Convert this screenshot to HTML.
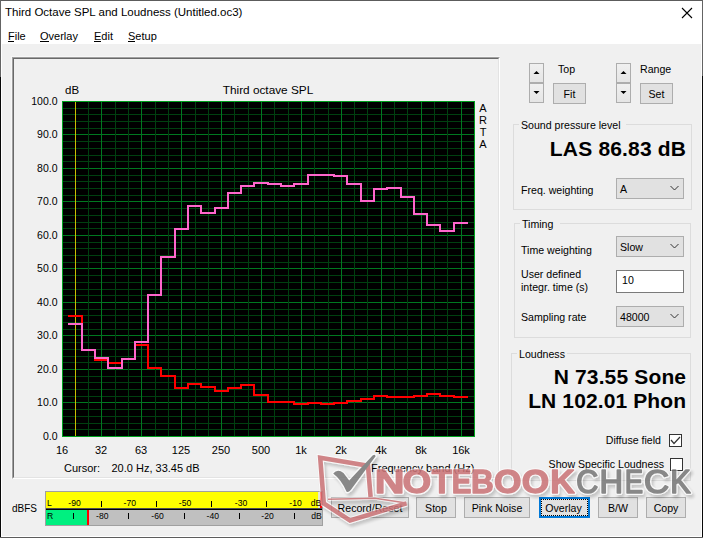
<!DOCTYPE html>
<html><head><meta charset="utf-8"><style>
html,body{margin:0;padding:0;}
body{width:703px;height:538px;position:relative;overflow:hidden;font-family:"Liberation Sans", sans-serif;background:#f0f0f0;}
</style></head><body>
<div style="position:absolute;left:0px;top:0px;width:703px;height:538px;background:#f0f0f0;"></div><div style="position:absolute;left:0px;top:0px;width:703px;height:44px;background:#fff;"></div><div style="position:absolute;left:0px;top:0px;width:703px;height:1px;background:#5c5c5c;"></div><div style="position:absolute;left:0px;top:537px;width:703px;height:1px;background:#5c5c5c;"></div><div style="position:absolute;left:0px;top:0px;width:1px;height:538px;background:#646464;"></div><div style="position:absolute;left:702px;top:0px;width:1px;height:538px;background:#646464;"></div><div style="position:absolute;left:701px;top:44px;width:1px;height:493px;background:#fff;"></div><div style="position:absolute;left:1px;top:44px;width:1px;height:493px;background:#fff;"></div><div style="position:absolute;left:0px;top:77px;width:1px;height:460px;background:#080808;"></div><div style="position:absolute;left:702px;top:76px;width:1px;height:461px;background:#080808;"></div><div style="position:absolute;left:1px;top:536px;width:701px;height:1px;background:#fff;"></div><div style="position:absolute;left:5px;top:7.27px;font-size:11.5px;line-height:11.5px;font-weight:400;color:#000;white-space:pre;">Third Octave SPL and Loudness (Untitled.oc3)</div><svg style="position:absolute;left:681px;top:7px" width="12" height="12"><path d="M1 1L11 11M11 1L1 11" stroke="#000" stroke-width="1.1"/></svg><div style="position:absolute;left:8px;top:30.69px;font-size:11px;line-height:11px;font-weight:400;color:#000;white-space:pre;">File</div><div style="position:absolute;left:8px;top:41px;width:6px;height:1px;background:#000;"></div><div style="position:absolute;left:40px;top:30.69px;font-size:11px;line-height:11px;font-weight:400;color:#000;white-space:pre;">Overlay</div><div style="position:absolute;left:40px;top:41px;width:9px;height:1px;background:#000;"></div><div style="position:absolute;left:94px;top:30.69px;font-size:11px;line-height:11px;font-weight:400;color:#000;white-space:pre;">Edit</div><div style="position:absolute;left:94px;top:41px;width:7px;height:1px;background:#000;"></div><div style="position:absolute;left:128px;top:30.69px;font-size:11px;line-height:11px;font-weight:400;color:#000;white-space:pre;">Setup</div><div style="position:absolute;left:128px;top:41px;width:7px;height:1px;background:#000;"></div><div style="position:absolute;left:11px;top:56px;width:489px;height:423px;background:#f7f7f7;"></div><div style="position:absolute;left:12px;top:57px;width:488px;height:422px;box-sizing:border-box;border-top:1px solid #a0a0a0;border-left:1px solid #a0a0a0;border-right:1px solid #fff;border-bottom:1px solid #fff;"></div><div style="position:absolute;left:13px;top:58px;width:486px;height:420px;box-sizing:border-box;border-top:1px solid #696969;border-left:1px solid #696969;border-right:1px solid #e3e3e3;border-bottom:1px solid #e3e3e3;background:#f0f0f0;"></div><svg style="position:absolute;left:0;top:0" width="703" height="538" shape-rendering="crispEdges"><rect x="62" y="101" width="413" height="336" fill="#000"/><rect x="62" y="108" width="412" height="1" fill="#004010"/><rect x="62" y="114" width="412" height="1" fill="#004010"/><rect x="62" y="121" width="412" height="1" fill="#004010"/><rect x="62" y="128" width="412" height="1" fill="#004010"/><rect x="62" y="134" width="412" height="1" fill="#007820"/><rect x="62" y="141" width="412" height="1" fill="#004010"/><rect x="62" y="148" width="412" height="1" fill="#004010"/><rect x="62" y="155" width="412" height="1" fill="#004010"/><rect x="62" y="161" width="412" height="1" fill="#004010"/><rect x="62" y="168" width="412" height="1" fill="#007820"/><rect x="62" y="175" width="412" height="1" fill="#004010"/><rect x="62" y="181" width="412" height="1" fill="#004010"/><rect x="62" y="188" width="412" height="1" fill="#004010"/><rect x="62" y="195" width="412" height="1" fill="#004010"/><rect x="62" y="201" width="412" height="1" fill="#007820"/><rect x="62" y="208" width="412" height="1" fill="#004010"/><rect x="62" y="215" width="412" height="1" fill="#004010"/><rect x="62" y="222" width="412" height="1" fill="#004010"/><rect x="62" y="228" width="412" height="1" fill="#004010"/><rect x="62" y="235" width="412" height="1" fill="#007820"/><rect x="62" y="242" width="412" height="1" fill="#004010"/><rect x="62" y="248" width="412" height="1" fill="#004010"/><rect x="62" y="255" width="412" height="1" fill="#004010"/><rect x="62" y="262" width="412" height="1" fill="#004010"/><rect x="62" y="268" width="412" height="1" fill="#007820"/><rect x="62" y="275" width="412" height="1" fill="#004010"/><rect x="62" y="282" width="412" height="1" fill="#004010"/><rect x="62" y="289" width="412" height="1" fill="#004010"/><rect x="62" y="295" width="412" height="1" fill="#004010"/><rect x="62" y="302" width="412" height="1" fill="#007820"/><rect x="62" y="309" width="412" height="1" fill="#004010"/><rect x="62" y="315" width="412" height="1" fill="#004010"/><rect x="62" y="322" width="412" height="1" fill="#004010"/><rect x="62" y="329" width="412" height="1" fill="#004010"/><rect x="62" y="335" width="412" height="1" fill="#007820"/><rect x="62" y="342" width="412" height="1" fill="#004010"/><rect x="62" y="349" width="412" height="1" fill="#004010"/><rect x="62" y="356" width="412" height="1" fill="#004010"/><rect x="62" y="362" width="412" height="1" fill="#004010"/><rect x="62" y="369" width="412" height="1" fill="#007820"/><rect x="62" y="376" width="412" height="1" fill="#004010"/><rect x="62" y="382" width="412" height="1" fill="#004010"/><rect x="62" y="389" width="412" height="1" fill="#004010"/><rect x="62" y="396" width="412" height="1" fill="#004010"/><rect x="62" y="402" width="412" height="1" fill="#007820"/><rect x="62" y="409" width="412" height="1" fill="#004010"/><rect x="62" y="416" width="412" height="1" fill="#004010"/><rect x="62" y="423" width="412" height="1" fill="#004010"/><rect x="62" y="429" width="412" height="1" fill="#004010"/><rect x="75" y="101" width="1" height="335" fill="#004010"/><rect x="88" y="101" width="1" height="335" fill="#004010"/><rect x="101" y="101" width="1" height="335" fill="#007820"/><rect x="115" y="101" width="1" height="335" fill="#004010"/><rect x="128" y="101" width="1" height="335" fill="#004010"/><rect x="141" y="101" width="1" height="335" fill="#007820"/><rect x="155" y="101" width="1" height="335" fill="#004010"/><rect x="168" y="101" width="1" height="335" fill="#004010"/><rect x="181" y="101" width="1" height="335" fill="#007820"/><rect x="195" y="101" width="1" height="335" fill="#004010"/><rect x="208" y="101" width="1" height="335" fill="#004010"/><rect x="221" y="101" width="1" height="335" fill="#007820"/><rect x="234" y="101" width="1" height="335" fill="#004010"/><rect x="248" y="101" width="1" height="335" fill="#004010"/><rect x="261" y="101" width="1" height="335" fill="#007820"/><rect x="274" y="101" width="1" height="335" fill="#004010"/><rect x="288" y="101" width="1" height="335" fill="#004010"/><rect x="301" y="101" width="1" height="335" fill="#007820"/><rect x="314" y="101" width="1" height="335" fill="#004010"/><rect x="328" y="101" width="1" height="335" fill="#004010"/><rect x="341" y="101" width="1" height="335" fill="#007820"/><rect x="354" y="101" width="1" height="335" fill="#004010"/><rect x="367" y="101" width="1" height="335" fill="#004010"/><rect x="381" y="101" width="1" height="335" fill="#007820"/><rect x="394" y="101" width="1" height="335" fill="#004010"/><rect x="407" y="101" width="1" height="335" fill="#004010"/><rect x="421" y="101" width="1" height="335" fill="#007820"/><rect x="434" y="101" width="1" height="335" fill="#004010"/><rect x="447" y="101" width="1" height="335" fill="#004010"/><rect x="461" y="101" width="1" height="335" fill="#007820"/><rect x="62" y="101" width="413" height="1" fill="#00a01e"/><rect x="62" y="436" width="413" height="1" fill="#00a01e"/><rect x="62" y="101" width="1" height="336" fill="#00a01e"/><rect x="474" y="101" width="1" height="336" fill="#00a01e"/><rect x="75" y="102" width="1" height="334" fill="#c8be00"/><path d="M69 316 H82 V350 H95 V360 H108 V363 H122 V359 H135 V345 H148 V368 H161 V376 H175 V388 H188 V384 H201 V387 H215 V391 H228 V388 H241 V385 H254 V395 H268 V402 H281 V402 H294 V404 H308 V403 H321 V404 H334 V403 H347 V401 H361 V399 H374 V396 H387 V397 H401 V397 H414 V396 H427 V394 H440 V396 H454 V397 H467" fill="none" stroke="#ff0000" stroke-width="2" stroke-linecap="square"/><path d="M69 324 H82 V350 H95 V358 H108 V368 H122 V359 H135 V342 H148 V295 H161 V257 H175 V229 H188 V206 H201 V213 H215 V208 H228 V193 H241 V186 H254 V183 H268 V184 H281 V186 H294 V184 H308 V175 H321 V175 H334 V176 H347 V184 H361 V201 H374 V189 H387 V188 H401 V197 H414 V214 H427 V225 H440 V231 H454 V223 H467" fill="none" stroke="#ff66cc" stroke-width="2" stroke-linecap="square"/></svg><div style="position:absolute;right:645.5px;top:95.81px;font-size:10.5px;line-height:10.5px;font-weight:400;color:#000;white-space:pre;">100.0</div><div style="position:absolute;right:645.5px;top:129.31px;font-size:10.5px;line-height:10.5px;font-weight:400;color:#000;white-space:pre;">90.0</div><div style="position:absolute;right:645.5px;top:162.81px;font-size:10.5px;line-height:10.5px;font-weight:400;color:#000;white-space:pre;">80.0</div><div style="position:absolute;right:645.5px;top:196.31px;font-size:10.5px;line-height:10.5px;font-weight:400;color:#000;white-space:pre;">70.0</div><div style="position:absolute;right:645.5px;top:229.81px;font-size:10.5px;line-height:10.5px;font-weight:400;color:#000;white-space:pre;">60.0</div><div style="position:absolute;right:645.5px;top:263.31px;font-size:10.5px;line-height:10.5px;font-weight:400;color:#000;white-space:pre;">50.0</div><div style="position:absolute;right:645.5px;top:296.81px;font-size:10.5px;line-height:10.5px;font-weight:400;color:#000;white-space:pre;">40.0</div><div style="position:absolute;right:645.5px;top:330.31px;font-size:10.5px;line-height:10.5px;font-weight:400;color:#000;white-space:pre;">30.0</div><div style="position:absolute;right:645.5px;top:363.81px;font-size:10.5px;line-height:10.5px;font-weight:400;color:#000;white-space:pre;">20.0</div><div style="position:absolute;right:645.5px;top:397.31px;font-size:10.5px;line-height:10.5px;font-weight:400;color:#000;white-space:pre;">10.0</div><div style="position:absolute;right:645.5px;top:430.81px;font-size:10.5px;line-height:10.5px;font-weight:400;color:#000;white-space:pre;">0.0</div><div style="position:absolute;left:65px;top:85.27px;font-size:11.5px;line-height:11.5px;font-weight:400;color:#000;white-space:pre;">dB</div><div style="position:absolute;left:68px;width:400px;text-align:center;top:85.01px;font-size:11.8px;line-height:11.8px;font-weight:400;color:#000;white-space:pre;">Third octave SPL</div><div style="position:absolute;left:283px;width:400px;text-align:center;top:102.69px;font-size:11px;line-height:11px;font-weight:400;color:#000;white-space:pre;">A</div><div style="position:absolute;left:283px;width:400px;text-align:center;top:114.89px;font-size:11px;line-height:11px;font-weight:400;color:#000;white-space:pre;">R</div><div style="position:absolute;left:283px;width:400px;text-align:center;top:127.09px;font-size:11px;line-height:11px;font-weight:400;color:#000;white-space:pre;">T</div><div style="position:absolute;left:283px;width:400px;text-align:center;top:139.29px;font-size:11px;line-height:11px;font-weight:400;color:#000;white-space:pre;">A</div><div style="position:absolute;left:-138.0px;width:400px;text-align:center;top:445.19px;font-size:11px;line-height:11px;font-weight:400;color:#000;white-space:pre;">16</div><div style="position:absolute;left:-99.0px;width:400px;text-align:center;top:445.19px;font-size:11px;line-height:11px;font-weight:400;color:#000;white-space:pre;">32</div><div style="position:absolute;left:-59.0px;width:400px;text-align:center;top:445.19px;font-size:11px;line-height:11px;font-weight:400;color:#000;white-space:pre;">63</div><div style="position:absolute;left:-19.0px;width:400px;text-align:center;top:445.19px;font-size:11px;line-height:11px;font-weight:400;color:#000;white-space:pre;">125</div><div style="position:absolute;left:21.0px;width:400px;text-align:center;top:445.19px;font-size:11px;line-height:11px;font-weight:400;color:#000;white-space:pre;">250</div><div style="position:absolute;left:61.0px;width:400px;text-align:center;top:445.19px;font-size:11px;line-height:11px;font-weight:400;color:#000;white-space:pre;">500</div><div style="position:absolute;left:101.0px;width:400px;text-align:center;top:445.19px;font-size:11px;line-height:11px;font-weight:400;color:#000;white-space:pre;">1k</div><div style="position:absolute;left:141.0px;width:400px;text-align:center;top:445.19px;font-size:11px;line-height:11px;font-weight:400;color:#000;white-space:pre;">2k</div><div style="position:absolute;left:181.0px;width:400px;text-align:center;top:445.19px;font-size:11px;line-height:11px;font-weight:400;color:#000;white-space:pre;">4k</div><div style="position:absolute;left:221.0px;width:400px;text-align:center;top:445.19px;font-size:11px;line-height:11px;font-weight:400;color:#000;white-space:pre;">8k</div><div style="position:absolute;left:261.0px;width:400px;text-align:center;top:445.19px;font-size:11px;line-height:11px;font-weight:400;color:#000;white-space:pre;">16k</div><div style="position:absolute;left:64px;top:463.19px;font-size:11px;line-height:11px;font-weight:400;color:#000;white-space:pre;">Cursor:</div><div style="position:absolute;left:111.5px;top:463.19px;font-size:11px;line-height:11px;font-weight:400;color:#000;white-space:pre;">20.0 Hz, 33.45 dB</div><div style="position:absolute;left:371px;top:463.19px;font-size:11px;line-height:11px;font-weight:400;color:#000;white-space:pre;">Frequency band (Hz)</div><div style="position:absolute;left:529px;top:63px;width:15px;height:20px;box-sizing:border-box;border:1px solid #adadad;background:linear-gradient(#f0f0f0,#e5e5e5);"></div><div style="position:absolute;left:529px;top:83px;width:15px;height:20px;box-sizing:border-box;border:1px solid #adadad;background:linear-gradient(#f0f0f0,#e5e5e5);"></div><svg style="position:absolute;left:529px;top:63px" width="15" height="40"><path d="M4.5 11L7.5 8L10.5 11Z" fill="#000"/><path d="M4.5 28L7.5 31L10.5 28Z" fill="#000"/></svg><div style="position:absolute;left:558px;top:64.03px;font-size:10.6px;line-height:10.6px;font-weight:400;color:#000;white-space:pre;">Top</div><div style="position:absolute;left:553px;top:83px;width:33px;height:21px;box-sizing:border-box;border:1px solid #adadad;background:#e1e1e1;"></div><div style="position:absolute;left:369.5px;width:400px;text-align:center;top:88.53px;font-size:10.6px;line-height:10.6px;font-weight:400;color:#000;white-space:pre;">Fit</div><div style="position:absolute;left:616px;top:63px;width:15px;height:20px;box-sizing:border-box;border:1px solid #adadad;background:linear-gradient(#f0f0f0,#e5e5e5);"></div><div style="position:absolute;left:616px;top:83px;width:15px;height:20px;box-sizing:border-box;border:1px solid #adadad;background:linear-gradient(#f0f0f0,#e5e5e5);"></div><svg style="position:absolute;left:616px;top:63px" width="15" height="40"><path d="M4.5 11L7.5 8L10.5 11Z" fill="#000"/><path d="M4.5 28L7.5 31L10.5 28Z" fill="#000"/></svg><div style="position:absolute;left:640px;top:64.03px;font-size:10.6px;line-height:10.6px;font-weight:400;color:#000;white-space:pre;">Range</div><div style="position:absolute;left:640px;top:83px;width:33px;height:21px;box-sizing:border-box;border:1px solid #adadad;background:#e1e1e1;"></div><div style="position:absolute;left:456.5px;width:400px;text-align:center;top:88.53px;font-size:10.6px;line-height:10.6px;font-weight:400;color:#000;white-space:pre;">Set</div><div style="position:absolute;left:513px;top:124px;width:179px;height:86px;box-sizing:border-box;border:1px solid #dcdcdc;"></div><div style="position:absolute;left:519px;top:122px;width:107px;height:5px;background:#f0f0f0;"></div><div style="position:absolute;left:521px;top:120.03px;font-size:10.6px;line-height:10.6px;font-weight:400;color:#000;white-space:pre;">Sound pressure level</div><div style="position:absolute;right:16.799999999999955px;top:137.72px;font-size:21px;line-height:21px;font-weight:700;color:#000;white-space:pre;letter-spacing:0.18px;">LAS 86.83 dB</div><div style="position:absolute;left:521px;top:184.53px;font-size:10.6px;line-height:10.6px;font-weight:400;color:#000;white-space:pre;">Freq. weighting</div><div style="position:absolute;left:616px;top:178px;width:68px;height:21px;box-sizing:border-box;border:1px solid #adadad;background:#e1e1e1;"></div><div style="position:absolute;left:620px;top:184.03px;font-size:10.6px;line-height:10.6px;font-weight:400;color:#000;white-space:pre;">A</div><svg style="position:absolute;left:670px;top:185px" width="10" height="7"><path d="M0.5 1L4.5 5L8.5 1" fill="none" stroke="#333" stroke-width="1"/></svg><div style="position:absolute;left:514px;top:223px;width:177px;height:115px;box-sizing:border-box;border:1px solid #dcdcdc;"></div><div style="position:absolute;left:520px;top:221px;width:40px;height:5px;background:#f0f0f0;"></div><div style="position:absolute;left:522px;top:219.03px;font-size:10.6px;line-height:10.6px;font-weight:400;color:#000;white-space:pre;">Timing</div><div style="position:absolute;left:521px;top:245.03px;font-size:10.6px;line-height:10.6px;font-weight:400;color:#000;white-space:pre;">Time weighting</div><div style="position:absolute;left:616px;top:236px;width:68px;height:21px;box-sizing:border-box;border:1px solid #adadad;background:#e1e1e1;"></div><div style="position:absolute;left:620px;top:242.03px;font-size:10.6px;line-height:10.6px;font-weight:400;color:#000;white-space:pre;">Slow</div><svg style="position:absolute;left:670px;top:243px" width="10" height="7"><path d="M0.5 1L4.5 5L8.5 1" fill="none" stroke="#333" stroke-width="1"/></svg><div style="position:absolute;left:521px;top:269.03px;font-size:10.6px;line-height:10.6px;font-weight:400;color:#000;white-space:pre;">User defined</div><div style="position:absolute;left:521px;top:282.03px;font-size:10.6px;line-height:10.6px;font-weight:400;color:#000;white-space:pre;">integr. time (s)</div><div style="position:absolute;left:616px;top:270px;width:68px;height:23px;box-sizing:border-box;border:1px solid #7a7a7a;background:#fff;"></div><div style="position:absolute;left:622px;top:275.03px;font-size:10.6px;line-height:10.6px;font-weight:400;color:#000;white-space:pre;">10</div><div style="position:absolute;left:521px;top:312.03px;font-size:10.6px;line-height:10.6px;font-weight:400;color:#000;white-space:pre;">Sampling rate</div><div style="position:absolute;left:616px;top:306px;width:68px;height:21px;box-sizing:border-box;border:1px solid #adadad;background:#e1e1e1;"></div><div style="position:absolute;left:620px;top:312.03px;font-size:10.6px;line-height:10.6px;font-weight:400;color:#000;white-space:pre;">48000</div><svg style="position:absolute;left:670px;top:313px" width="10" height="7"><path d="M0.5 1L4.5 5L8.5 1" fill="none" stroke="#333" stroke-width="1"/></svg><div style="position:absolute;left:511px;top:353px;width:180px;height:128px;box-sizing:border-box;border:1px solid #dcdcdc;"></div><div style="position:absolute;left:517px;top:351px;width:50px;height:5px;background:#f0f0f0;"></div><div style="position:absolute;left:519px;top:349.03px;font-size:10.6px;line-height:10.6px;font-weight:400;color:#000;white-space:pre;">Loudness</div><div style="position:absolute;right:16.799999999999955px;top:365.72px;font-size:21px;line-height:21px;font-weight:700;color:#000;white-space:pre;letter-spacing:0.15px;">N 73.55 Sone</div><div style="position:absolute;right:16.799999999999955px;top:389.72px;font-size:21px;line-height:21px;font-weight:700;color:#000;white-space:pre;letter-spacing:0.12px;">LN 102.01 Phon</div><div style="position:absolute;right:42px;top:435.03px;font-size:10.6px;line-height:10.6px;font-weight:400;color:#000;white-space:pre;">Diffuse field</div><div style="position:absolute;left:669px;top:434px;width:13px;height:13px;box-sizing:border-box;border:1px solid #333;background:#fff;"></div><svg style="position:absolute;left:669px;top:434px" width="13" height="13"><path d="M2 6L5 9.5L11 3" fill="none" stroke="#333" stroke-width="1.2"/></svg><div style="position:absolute;right:39px;top:459.03px;font-size:10.6px;line-height:10.6px;font-weight:400;color:#000;white-space:pre;">Show Specific Loudness</div><div style="position:absolute;left:670px;top:458px;width:13px;height:13px;box-sizing:border-box;border:1px solid #333;background:#fff;"></div><div style="position:absolute;left:12px;top:503.54px;font-size:10px;line-height:10px;font-weight:400;color:#000;white-space:pre;">dBFS</div><div style="position:absolute;left:45px;top:491px;width:278px;height:35px;background:#a0a0a0;"></div><div style="position:absolute;left:46px;top:492px;width:276px;height:16px;background:#ffff00;"></div><div style="position:absolute;left:46px;top:508px;width:276px;height:1px;background:#505050;"></div><div style="position:absolute;left:46px;top:509px;width:276px;height:1px;background:#000;"></div><div style="position:absolute;left:46px;top:510px;width:276px;height:15px;background:#c0c0c0;"></div><div style="position:absolute;left:46px;top:510px;width:41px;height:15px;background:#00f080;"></div><div style="position:absolute;left:87px;top:510px;width:2px;height:15px;background:#ff0000;"></div><div style="position:absolute;left:318px;top:492px;width:2px;height:16px;background:#e8e8d0;"></div><div style="position:absolute;left:320px;top:492px;width:2px;height:16px;background:#ff0000;"></div><div style="position:absolute;left:47px;top:498.72px;font-size:8.6px;line-height:8.6px;font-weight:400;color:#000;white-space:pre;">L</div><div style="position:absolute;left:47px;top:511.72px;font-size:8.6px;line-height:8.6px;font-weight:400;color:#000;white-space:pre;">R</div><div style="position:absolute;left:-125.5px;width:400px;text-align:center;top:498.72px;font-size:8.6px;line-height:8.6px;font-weight:400;color:#000;white-space:pre;">-90</div><div style="position:absolute;left:-70.19999999999999px;width:400px;text-align:center;top:498.72px;font-size:8.6px;line-height:8.6px;font-weight:400;color:#000;white-space:pre;">-70</div><div style="position:absolute;left:-15px;width:400px;text-align:center;top:498.72px;font-size:8.6px;line-height:8.6px;font-weight:400;color:#000;white-space:pre;">-50</div><div style="position:absolute;left:41px;width:400px;text-align:center;top:498.72px;font-size:8.6px;line-height:8.6px;font-weight:400;color:#000;white-space:pre;">-30</div><div style="position:absolute;left:95.5px;width:400px;text-align:center;top:498.72px;font-size:8.6px;line-height:8.6px;font-weight:400;color:#000;white-space:pre;">-10</div><div style="position:absolute;left:101px;top:501px;width:1px;height:6px;background:#000;"></div><div style="position:absolute;left:156px;top:501px;width:1px;height:6px;background:#000;"></div><div style="position:absolute;left:211px;top:501px;width:1px;height:6px;background:#000;"></div><div style="position:absolute;left:266px;top:501px;width:1px;height:6px;background:#000;"></div><div style="position:absolute;left:116px;width:400px;text-align:center;top:498.72px;font-size:8.6px;line-height:8.6px;font-weight:400;color:#000;white-space:pre;">dB</div><div style="position:absolute;left:-97.7px;width:400px;text-align:center;top:511.72px;font-size:8.6px;line-height:8.6px;font-weight:400;color:#000;white-space:pre;">-80</div><div style="position:absolute;left:-42.5px;width:400px;text-align:center;top:511.72px;font-size:8.6px;line-height:8.6px;font-weight:400;color:#000;white-space:pre;">-60</div><div style="position:absolute;left:12.800000000000011px;width:400px;text-align:center;top:511.72px;font-size:8.6px;line-height:8.6px;font-weight:400;color:#000;white-space:pre;">-40</div><div style="position:absolute;left:67.5px;width:400px;text-align:center;top:511.72px;font-size:8.6px;line-height:8.6px;font-weight:400;color:#000;white-space:pre;">-20</div><div style="position:absolute;left:73px;top:513px;width:1px;height:6px;background:#000;"></div><div style="position:absolute;left:128px;top:513px;width:1px;height:6px;background:#000;"></div><div style="position:absolute;left:184px;top:513px;width:1px;height:6px;background:#000;"></div><div style="position:absolute;left:239px;top:513px;width:1px;height:6px;background:#000;"></div><div style="position:absolute;left:294px;top:513px;width:1px;height:6px;background:#000;"></div><div style="position:absolute;left:116.5px;width:400px;text-align:center;top:511.72px;font-size:8.6px;line-height:8.6px;font-weight:400;color:#000;white-space:pre;">dB</div><div style="position:absolute;left:331px;top:497px;width:78px;height:21px;box-sizing:border-box;border:1px solid #adadad;background:#e1e1e1;"></div><div style="position:absolute;left:170.0px;width:400px;text-align:center;top:502.53px;font-size:10.6px;line-height:10.6px;font-weight:400;color:#000;white-space:pre;">Record/Reset</div><div style="position:absolute;left:416px;top:497px;width:40px;height:21px;box-sizing:border-box;border:1px solid #adadad;background:#e1e1e1;"></div><div style="position:absolute;left:236.0px;width:400px;text-align:center;top:502.53px;font-size:10.6px;line-height:10.6px;font-weight:400;color:#000;white-space:pre;">Stop</div><div style="position:absolute;left:464px;top:497px;width:66px;height:21px;box-sizing:border-box;border:1px solid #adadad;background:#e1e1e1;"></div><div style="position:absolute;left:297.0px;width:400px;text-align:center;top:502.53px;font-size:10.6px;line-height:10.6px;font-weight:400;color:#000;white-space:pre;">Pink Noise</div><div style="position:absolute;left:539px;top:497px;width:51px;height:21px;box-sizing:border-box;border:2px solid #0078d7;background:#e1e1e1;"></div><div style="position:absolute;left:541px;top:499px;width:47px;height:17px;box-sizing:border-box;border:1px dotted #000;"></div><div style="position:absolute;left:363.5px;width:400px;text-align:center;top:502.53px;font-size:10.6px;line-height:10.6px;font-weight:400;color:#000;white-space:pre;">Overlay</div><div style="position:absolute;left:598px;top:497px;width:40px;height:21px;box-sizing:border-box;border:1px solid #adadad;background:#e1e1e1;"></div><div style="position:absolute;left:418.0px;width:400px;text-align:center;top:502.53px;font-size:10.6px;line-height:10.6px;font-weight:400;color:#000;white-space:pre;">B/W</div><div style="position:absolute;left:646px;top:497px;width:40px;height:21px;box-sizing:border-box;border:1px solid #adadad;background:#e1e1e1;"></div><div style="position:absolute;left:466.0px;width:400px;text-align:center;top:502.53px;font-size:10.6px;line-height:10.6px;font-weight:400;color:#000;white-space:pre;">Copy</div><svg style="position:absolute;left:0;top:0" width="703" height="538"><defs><filter id="sh" x="-20%" y="-40%" width="140%" height="180%"><feGaussianBlur in="SourceAlpha" stdDeviation="1.6"/><feOffset dx="2" dy="2.5" result="b"/><feComponentTransfer in="b" result="c"><feFuncA type="linear" slope="0.30"/></feComponentTransfer><feMerge><feMergeNode in="c"/><feMergeNode in="SourceGraphic"/></feMerge></filter></defs><g filter="url(#sh)" opacity="0.6"><path d="M370.6 497 L368 465.8 L320.2 457.8 L323.8 503.5 L350 520.4 L406.5 503.4" fill="none" stroke="#fff" stroke-width="6.6" stroke-linejoin="miter" stroke-miterlimit="10"/><path d="M328 499.2 L375 498.3 L406.3 503" fill="none" stroke="#fff" stroke-width="3"/><path d="M333.2 473.6 Q337.5 468 343.5 473 L349.2 480.6 L372.6 455.4 Q375.2 453.6 375.6 456.2 L352.2 488 Q349.2 492.6 346.6 491.8 Q341.5 480 333.2 473.6 Z" fill="#fff" stroke="#fff" stroke-width="2.5"/><text transform="translate(374.77 493.4) scale(1.2758 1)" font-family="Liberation Sans" font-weight="700" font-size="32.3" fill="#fff" stroke="#fff" stroke-width="3.6" stroke-linejoin="round" >N</text><text transform="translate(402.58 493.4) scale(1.1411 1)" font-family="Liberation Sans" font-weight="700" font-size="32.3" fill="#fff" stroke="#fff" stroke-width="3.6" stroke-linejoin="round" >O</text><text transform="translate(431.72 493.4) scale(1.0285 1)" font-family="Liberation Sans" font-weight="700" font-size="32.3" fill="#fff" stroke="#fff" stroke-width="3.6" stroke-linejoin="round" >T</text><text transform="translate(451.79 493.4) scale(0.9122 1)" font-family="Liberation Sans" font-weight="700" font-size="32.3" fill="#fff" stroke="#fff" stroke-width="3.6" stroke-linejoin="round" >E</text><text transform="translate(470.95 493.4) scale(0.9745 1)" font-family="Liberation Sans" font-weight="700" font-size="32.3" fill="#fff" stroke="#fff" stroke-width="3.6" stroke-linejoin="round" >B</text><text transform="translate(493.94 493.4) scale(1.0924 1)" font-family="Liberation Sans" font-weight="700" font-size="32.3" fill="#fff" stroke="#fff" stroke-width="3.6" stroke-linejoin="round" >O</text><text transform="translate(521.84 493.4) scale(1.0924 1)" font-family="Liberation Sans" font-weight="700" font-size="32.3" fill="#fff" stroke="#fff" stroke-width="3.6" stroke-linejoin="round" >O</text><text transform="translate(550.28 493.4) scale(1.0497 1)" font-family="Liberation Sans" font-weight="700" font-size="32.3" fill="#fff" stroke="#fff" stroke-width="3.6" stroke-linejoin="round" >K</text><text transform="translate(576.18 493.4) scale(0.9435 1)" font-family="Liberation Sans" font-weight="400" font-size="32.3" fill="#fff" stroke="#fff" stroke-width="3.8" stroke-linejoin="round" >C</text><text transform="translate(599.59 493.4) scale(1.0117 1)" font-family="Liberation Sans" font-weight="400" font-size="32.3" fill="#fff" stroke="#fff" stroke-width="3.8" stroke-linejoin="round" >H</text><text transform="translate(624.69 493.4) scale(0.8543 1)" font-family="Liberation Sans" font-weight="400" font-size="32.3" fill="#fff" stroke="#fff" stroke-width="3.8" stroke-linejoin="round" >E</text><text transform="translate(644.06 493.4) scale(1.0762 1)" font-family="Liberation Sans" font-weight="400" font-size="32.3" fill="#fff" stroke="#fff" stroke-width="3.8" stroke-linejoin="round" >C</text><text transform="translate(670.34 493.4) scale(0.9505 1)" font-family="Liberation Sans" font-weight="400" font-size="32.3" fill="#fff" stroke="#fff" stroke-width="3.8" stroke-linejoin="round" >K</text></g><g opacity="0.65"><path d="M370.6 497 L368 465.8 L320.2 457.8 L323.8 503.5 L350 520.4 L406.5 503.4" fill="none" stroke="rgb(186,71,75)" stroke-width="4.6" stroke-linejoin="miter" stroke-miterlimit="10"/><path d="M328 499.2 L375 498.3 L406.3 503" fill="none" stroke="rgb(186,71,75)" stroke-width="1.4"/><path d="M333.2 473.6 Q337.5 468 343.5 473 L349.2 480.6 L372.6 455.4 Q375.2 453.6 375.6 456.2 L352.2 488 Q349.2 492.6 346.6 491.8 Q341.5 480 333.2 473.6 Z" fill="rgb(76,76,76)"/><text transform="translate(374.77 493.4) scale(1.2758 1)" font-family="Liberation Sans" font-weight="700" font-size="32.3" fill="rgb(186,71,75)" stroke="rgb(186,71,75)" stroke-width="1.3" stroke-linejoin="round" >N</text><text transform="translate(402.58 493.4) scale(1.1411 1)" font-family="Liberation Sans" font-weight="700" font-size="32.3" fill="rgb(186,71,75)" stroke="rgb(186,71,75)" stroke-width="1.3" stroke-linejoin="round" >O</text><text transform="translate(431.72 493.4) scale(1.0285 1)" font-family="Liberation Sans" font-weight="700" font-size="32.3" fill="rgb(186,71,75)" stroke="rgb(186,71,75)" stroke-width="1.3" stroke-linejoin="round" >T</text><text transform="translate(451.79 493.4) scale(0.9122 1)" font-family="Liberation Sans" font-weight="700" font-size="32.3" fill="rgb(186,71,75)" stroke="rgb(186,71,75)" stroke-width="1.3" stroke-linejoin="round" >E</text><text transform="translate(470.95 493.4) scale(0.9745 1)" font-family="Liberation Sans" font-weight="700" font-size="32.3" fill="rgb(186,71,75)" stroke="rgb(186,71,75)" stroke-width="1.3" stroke-linejoin="round" >B</text><text transform="translate(493.94 493.4) scale(1.0924 1)" font-family="Liberation Sans" font-weight="700" font-size="32.3" fill="rgb(186,71,75)" stroke="rgb(186,71,75)" stroke-width="1.3" stroke-linejoin="round" >O</text><text transform="translate(521.84 493.4) scale(1.0924 1)" font-family="Liberation Sans" font-weight="700" font-size="32.3" fill="rgb(186,71,75)" stroke="rgb(186,71,75)" stroke-width="1.3" stroke-linejoin="round" >O</text><text transform="translate(550.28 493.4) scale(1.0497 1)" font-family="Liberation Sans" font-weight="700" font-size="32.3" fill="rgb(186,71,75)" stroke="rgb(186,71,75)" stroke-width="1.3" stroke-linejoin="round" >K</text><text transform="translate(576.18 493.4) scale(0.9435 1)" font-family="Liberation Sans" font-weight="400" font-size="32.3" fill="rgb(76,76,76)" stroke="rgb(76,76,76)" stroke-width="1.6" stroke-linejoin="round" >C</text><text transform="translate(599.59 493.4) scale(1.0117 1)" font-family="Liberation Sans" font-weight="400" font-size="32.3" fill="rgb(76,76,76)" stroke="rgb(76,76,76)" stroke-width="1.6" stroke-linejoin="round" >H</text><text transform="translate(624.69 493.4) scale(0.8543 1)" font-family="Liberation Sans" font-weight="400" font-size="32.3" fill="rgb(76,76,76)" stroke="rgb(76,76,76)" stroke-width="1.6" stroke-linejoin="round" >E</text><text transform="translate(644.06 493.4) scale(1.0762 1)" font-family="Liberation Sans" font-weight="400" font-size="32.3" fill="rgb(76,76,76)" stroke="rgb(76,76,76)" stroke-width="1.6" stroke-linejoin="round" >C</text><text transform="translate(670.34 493.4) scale(0.9505 1)" font-family="Liberation Sans" font-weight="400" font-size="32.3" fill="rgb(76,76,76)" stroke="rgb(76,76,76)" stroke-width="1.6" stroke-linejoin="round" >K</text></g></svg>
</body></html>
